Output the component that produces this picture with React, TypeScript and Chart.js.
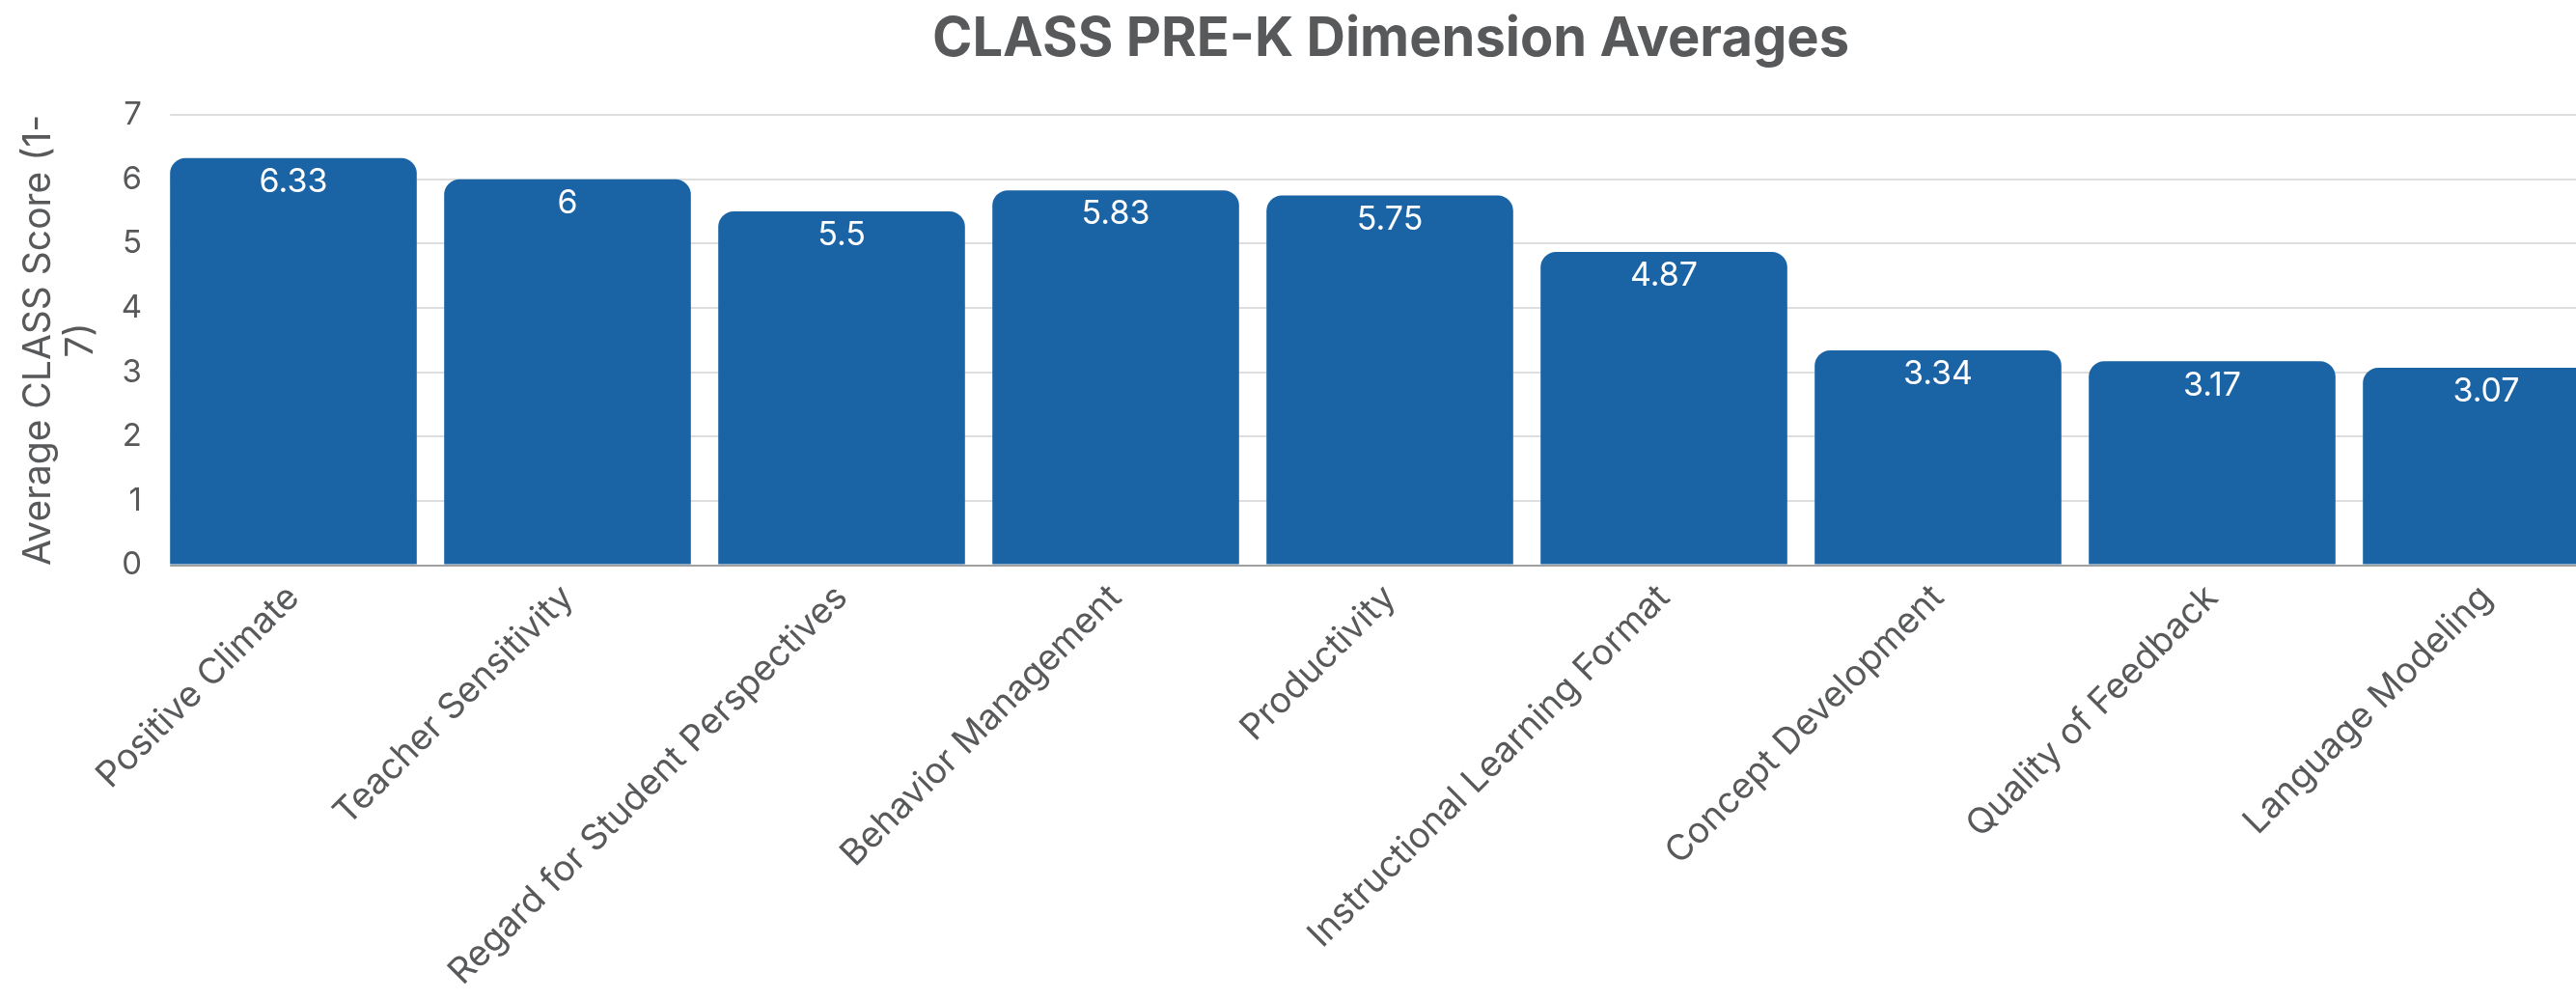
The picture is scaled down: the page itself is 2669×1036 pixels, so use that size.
import React, { useEffect, useRef } from "react";
import { Chart, registerables } from "chart.js";

Chart.register(...registerables);

const chartTitle = "CLASS PRE-K Dimension Averages";
const yAxisTitle = ["Average CLASS Score (1-", "7)"];
const categories = [
  "Positive Climate",
  "Teacher Sensitivity",
  "Regard for Student Perspectives",
  "Behavior Management",
  "Productivity",
  "Instructional Learning Format",
  "Concept Development",
  "Quality of Feedback",
  "Language Modeling",
];
const scores = [6.33, 6, 5.5, 5.83, 5.75, 4.87, 3.34, 3.17, 3.07];
const yMin = 0;
const yMax = 7;
const yStep = 1;

const FONT = "Inter, 'Open Sans', sans-serif";
const TEXT = "#58595b";
const BAR = "#1a63a5";
const W = 2882;
const H = 1036;

// Plot area in the reference begins at the first bar's left edge:
// hide the sliver of grid that lies left of the first bar.
const plotStart = {
  id: "plotStart",
  beforeDatasetsDraw(chart: any) {
    const { ctx, chartArea } = chart;
    const meta = chart.getDatasetMeta(0);
    const first = meta.data[0];
    if (!first) return;
    const firstLeft = first.x - first.width / 2;
    ctx.save();
    ctx.fillStyle = "#ffffff";
    ctx.fillRect(chartArea.left - 2, chartArea.top - 3, firstLeft - chartArea.left + 2, chartArea.bottom - chartArea.top + 6);
    ctx.restore();
  },
};

const valueLabels = {
  id: "valueLabels",
  afterDatasetsDraw(chart: any) {
    const { ctx } = chart;
    const meta = chart.getDatasetMeta(0);
    ctx.save();
    ctx.fillStyle = "#ffffff";
    ctx.font = `400 34px ${FONT}`;
    ctx.textAlign = "center";
    ctx.textBaseline = "middle";
    meta.data.forEach((el: any, i: number) => {
      const v = chart.data.datasets[0].data[i];
      ctx.fillText(String(v), el.x, el.y + 25);
    });
    ctx.restore();
  },
};

export default function App() {
  const ref = useRef<HTMLCanvasElement | null>(null);

  useEffect(() => {
    document.documentElement.style.overflow = "hidden";
    document.body.style.overflow = "hidden";
    if (!ref.current) return;
    const chart = new Chart(ref.current, {
      type: "bar",
      data: {
        labels: categories,
        datasets: [
          {
            data: scores,
            backgroundColor: BAR,
            borderWidth: 0,
            borderRadius: { topLeft: 16, topRight: 16, bottomLeft: 0, bottomRight: 0 },
            borderSkipped: "start",
            barPercentage: 0.9,
            categoryPercentage: 1,
          },
        ],
      },
      options: {
        responsive: false,
        animation: false,
        devicePixelRatio: 1,
        layout: { padding: 0 },
        plugins: {
          legend: { display: false },
          tooltip: { enabled: false },
          title: {
            display: true,
            text: chartTitle,
            color: TEXT,
            font: { family: FONT, size: 56, weight: "bold", lineHeight: 1.2 },
            padding: { top: 8, bottom: 44 },
          },
        },
        scales: {
          x: {
            grid: { display: false, drawTicks: false },
            border: { display: true, color: "#a0a0a0", width: 2 },
            ticks: {
              color: TEXT,
              font: { family: FONT, size: 37 },
              maxRotation: 45,
              minRotation: 45,
              autoSkip: false,
              padding: 12,
            },
            afterFit: (s: any) => {
              s.height = H - 585.5;
            },
          },
          y: {
            min: yMin,
            max: yMax,
            grid: { color: "#dedede", lineWidth: 2, drawTicks: false },
            border: { display: false },
            ticks: {
              stepSize: yStep,
              color: TEXT,
              font: { family: FONT, size: 33 },
              padding: 15,
            },
            title: {
              display: true,
              text: yAxisTitle,
              color: TEXT,
              font: { family: FONT, size: 39, lineHeight: 1.13 },
              padding: { top: 18, bottom: 0 },
            },
            afterFit: (s: any) => {
              s.width = 162;
            },
          },
          y2: {
            position: "right",
            display: true,
            grid: { display: false, drawTicks: false },
            border: { display: false },
            ticks: { display: false },
            afterFit: (s: any) => {
              s.width = 164;
            },
          },
        },
      },
      plugins: [plotStart, valueLabels],
    });
    return () => chart.destroy();
  }, []);

  return (
    <div
      style={{
        position: "fixed",
        left: 0,
        top: 0,
        width: W,
        height: H,
        background: "#ffffff",
      }}
    >
      <canvas ref={ref} width={W} height={H} style={{ width: W, height: H, display: "block" }} />
    </div>
  );
}
